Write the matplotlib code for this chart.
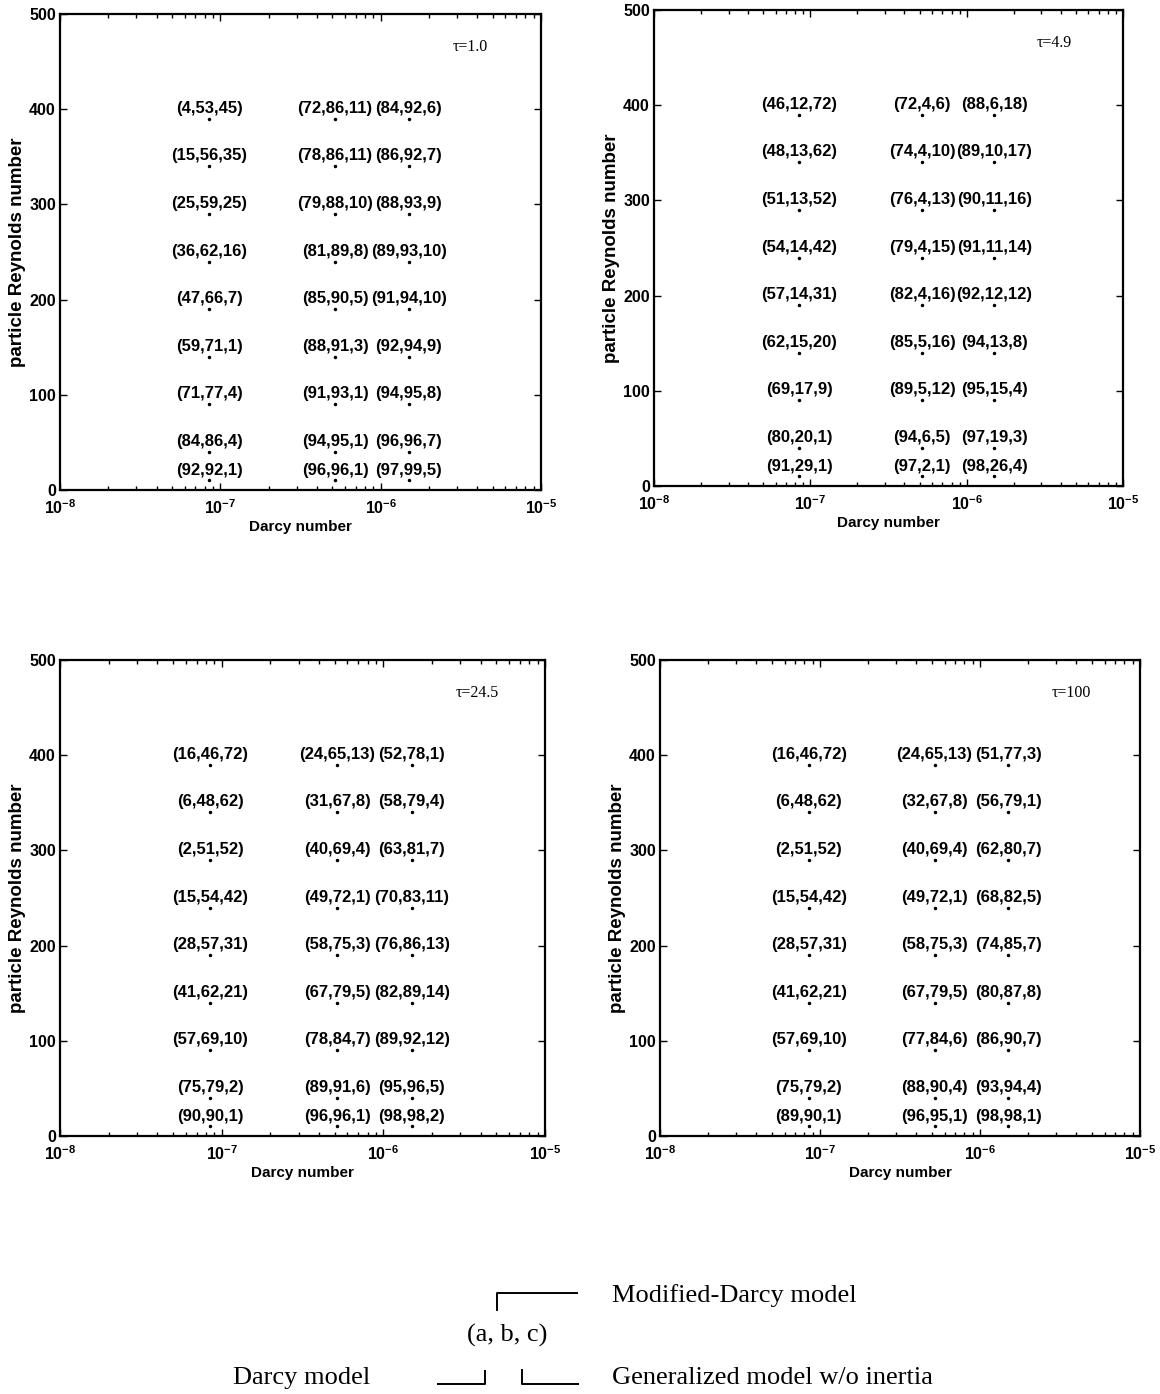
import matplotlib
matplotlib.use('Agg')
import matplotlib.pyplot as plt
from matplotlib.ticker import LogLocator, FixedLocator
from matplotlib.lines import Line2D

plt.rcParams['font.family'] = ['Liberation Sans', 'DejaVu Sans']
plt.rcParams['mathtext.fontset'] = 'custom'
plt.rcParams['mathtext.rm'] = 'Liberation Sans:bold'
plt.rcParams['mathtext.it'] = 'Liberation Sans:bold'
plt.rcParams['mathtext.bf'] = 'Liberation Sans:bold'

# Darcy numbers of the three columns and Reynolds numbers of the rows (top to bottom)
darcy = [8.5e-8, 5.2e-7, 1.5e-6]
reynolds = [390, 340, 290, 240, 190, 140, 90, 40, 10]

taus = ['\u03c4=1.0', '\u03c4=4.9', '\u03c4=24.5', '\u03c4=100']

# (a,b,c) labels, one row per Reynolds number, one entry per Darcy number
lab_tau1 = [
    ['(4,53,45)', '(72,86,11)', '(84,92,6)'],
    ['(15,56,35)', '(78,86,11)', '(86,92,7)'],
    ['(25,59,25)', '(79,88,10)', '(88,93,9)'],
    ['(36,62,16)', '(81,89,8)', '(89,93,10)'],
    ['(47,66,7)', '(85,90,5)', '(91,94,10)'],
    ['(59,71,1)', '(88,91,3)', '(92,94,9)'],
    ['(71,77,4)', '(91,93,1)', '(94,95,8)'],
    ['(84,86,4)', '(94,95,1)', '(96,96,7)'],
    ['(92,92,1)', '(96,96,1)', '(97,99,5)'],
]
lab_tau49 = [
    ['(46,12,72)', '(72,4,6)', '(88,6,18)'],
    ['(48,13,62)', '(74,4,10)', '(89,10,17)'],
    ['(51,13,52)', '(76,4,13)', '(90,11,16)'],
    ['(54,14,42)', '(79,4,15)', '(91,11,14)'],
    ['(57,14,31)', '(82,4,16)', '(92,12,12)'],
    ['(62,15,20)', '(85,5,16)', '(94,13,8)'],
    ['(69,17,9)', '(89,5,12)', '(95,15,4)'],
    ['(80,20,1)', '(94,6,5)', '(97,19,3)'],
    ['(91,29,1)', '(97,2,1)', '(98,26,4)'],
]
lab_tau245 = [
    ['(16,46,72)', '(24,65,13)', '(52,78,1)'],
    ['(6,48,62)', '(31,67,8)', '(58,79,4)'],
    ['(2,51,52)', '(40,69,4)', '(63,81,7)'],
    ['(15,54,42)', '(49,72,1)', '(70,83,11)'],
    ['(28,57,31)', '(58,75,3)', '(76,86,13)'],
    ['(41,62,21)', '(67,79,5)', '(82,89,14)'],
    ['(57,69,10)', '(78,84,7)', '(89,92,12)'],
    ['(75,79,2)', '(89,91,6)', '(95,96,5)'],
    ['(90,90,1)', '(96,96,1)', '(98,98,2)'],
]
lab_tau100 = [
    ['(16,46,72)', '(24,65,13)', '(51,77,3)'],
    ['(6,48,62)', '(32,67,8)', '(56,79,1)'],
    ['(2,51,52)', '(40,69,4)', '(62,80,7)'],
    ['(15,54,42)', '(49,72,1)', '(68,82,5)'],
    ['(28,57,31)', '(58,75,3)', '(74,85,7)'],
    ['(41,62,21)', '(67,79,5)', '(80,87,8)'],
    ['(57,69,10)', '(77,84,6)', '(86,90,7)'],
    ['(75,79,2)', '(88,90,4)', '(93,94,4)'],
    ['(89,90,1)', '(96,95,1)', '(98,98,1)'],
]
all_labels = [lab_tau1, lab_tau49, lab_tau245, lab_tau100]

W, H = 1160, 1394
fig = plt.figure(figsize=(W / 100, H / 100), dpi=100)

# panel boxes in pixels: left, right, top, bottom
boxes = [(60, 541, 14, 490), (654, 1123, 10, 486),
         (60, 545, 660, 1136), (660, 1140, 660, 1136)]

for box, tau, labs in zip(boxes, taus, all_labels):
    l, r, t, b = box
    ax = fig.add_axes([l / W, 1 - b / H, (r - l) / W, (b - t) / H])
    ax.set_xscale('log')
    ax.set_xlim(1e-8, 1e-5)
    ax.set_ylim(0, 500)
    for i, re in enumerate(reynolds):
        for j, da in enumerate(darcy):
            ax.plot(da, re, 'k.', markersize=3)
            ax.annotate(labs[i][j], (da, re), xytext=(0, 7.5), textcoords='offset points',
                        ha='center', va='center', fontsize=12, fontweight='bold')
    ax.text(2.8e-6, 465, tau, fontsize=11.5, family=['Liberation Serif', 'DejaVu Serif'],
            ha='left', va='center')
    ax.yaxis.set_major_locator(FixedLocator([0, 100, 200, 300, 400, 500]))
    ax.xaxis.set_major_locator(LogLocator(base=10, numticks=10))
    ax.xaxis.set_minor_locator(LogLocator(base=10, subs=range(2, 10), numticks=10))
    ax.tick_params(which='both', direction='in', top=True, right=True, width=1)
    ax.tick_params(which='major', length=5, labelsize=11.5)
    ax.tick_params(axis='x', which='major', pad=6)
    ax.tick_params(axis='y', which='major', pad=3)
    ax.tick_params(which='minor', length=3)
    for lab in ax.get_yticklabels() + ax.get_xticklabels():
        lab.set_fontweight('bold')
    for s in ax.spines.values():
        s.set_linewidth(1.6)
    ax.set_xlabel('Darcy number', fontsize=11, fontweight='bold', labelpad=2)
    ax.set_ylabel('particle Reynolds number', fontsize=13.5, fontweight='bold', labelpad=2)

# bracket key at the bottom
key = fig.add_axes([0, 0, 1, 1])
key.set_xlim(0, W)
key.set_ylim(H, 0)
key.axis('off')
lw = 1.4
key.add_line(Line2D([497, 497, 577], [1310, 1293, 1293], color='k', lw=lw))
key.add_line(Line2D([438, 485, 485], [1384, 1384, 1371], color='k', lw=lw))
key.add_line(Line2D([522, 522, 578], [1370, 1384, 1384], color='k', lw=lw))
serif = ['Liberation Serif', 'DejaVu Serif']
key.text(612, 1296, 'Modified-Darcy model', fontsize=19, family=serif, va='center')
key.text(507, 1335, '(a, b, c)', fontsize=19, family=serif, va='center', ha='center')
key.text(233, 1378, 'Darcy model', fontsize=19, family=serif, va='center')
key.text(612, 1378, 'Generalized model w/o inertia', fontsize=19, family=serif, va='center')

fig.savefig('out.png', dpi=100)
